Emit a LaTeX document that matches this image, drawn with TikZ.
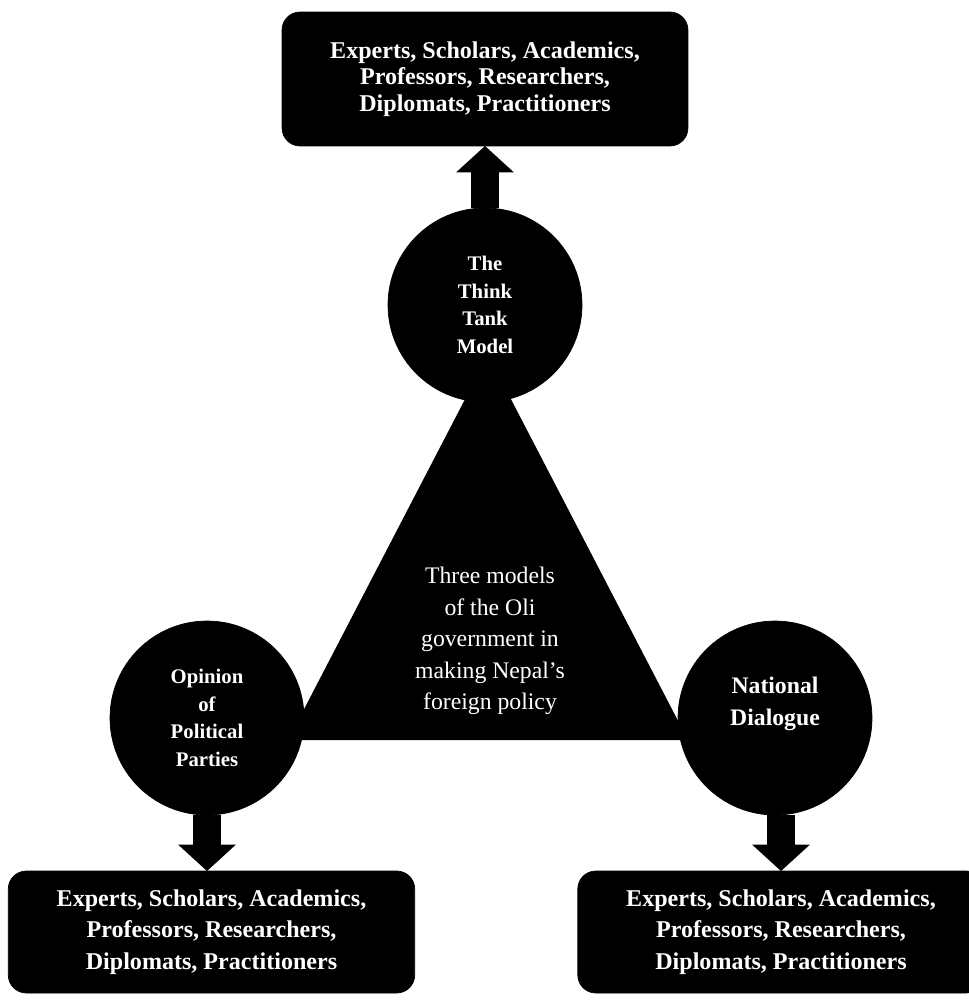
\documentclass[tikz,border=0pt]{standalone}
\usepackage{fontspec}
\setmainfont{Liberation Serif}
\usetikzlibrary{arrows.meta}

\tikzset{
  groupbox/.style={
    draw=black, fill=black, text=white,
    rounded corners=0.36cm,
    minimum width=8.13cm, minimum height=2.44cm,
    align=center, inner sep=0pt,
    font=\bfseries\fontsize{13.7pt}{18.0pt}\selectfont
  },
  modelcircle/.style={
    circle, draw=black, fill=black, text=white,
    minimum size=3.88cm, inner sep=0pt,
    align=center, font=\bfseries\fontsize{11.8pt}{15.7pt}\selectfont
  },
  modellabel/.style={
    text=white, align=center, inner sep=0pt,
    font=\bfseries\fontsize{13.5pt}{18.1pt}\selectfont
  },
  centretext/.style={
    text=white, align=center, inner sep=0pt,
    font=\fontsize{13.5pt}{17.9pt}\selectfont
  },
  blockarrow/.style={
    line width=0.57cm,
    -{Triangle[length=0.53cm, width=1.16cm, line width=0pt]}
  },
}

\begin{document}
\begin{tikzpicture}[x=0.02cm, y=-0.02cm, every node/.style={outer sep=0pt}]

\useasboundingbox (0,0) rectangle (969,1001);
\clip (0,0) rectangle (969,1001);

%% Central triangle
\coordinate (apex) at (488,355);
\coordinate (baseL) at (288,740);
\coordinate (baseR) at (688,740);
\fill[black] (apex) -- (baseL) -- (baseR) -- cycle;

\node[centretext] (centre) at (490,641)
  {Three models\\of the Oli\\government in\\making Nepal's\\foreign policy};

%% The three models
\node[modelcircle] (thinktank) at (485,305)
  {The\\Think\\Tank\\Model};

\node[modelcircle] (opinion) at (207,718)
  {Opinion\\of\\Political\\Parties};

\node[modelcircle,
      label={[modellabel, yshift=0.28cm]center:{National\\Dialogue}}]
  (dialogue) at (775,718) {};

%% Groups consulted
\node[groupbox, minimum width=8.12cm, minimum height=2.68cm,
      font=\bfseries\fontsize{13.7pt}{15.2pt}\selectfont] (topbox) at (485,79)
  {Experts, Scholars, Academics,\\Professors, Researchers,\\Diplomats, Practitioners};

\node[groupbox] (leftbox) at (211.5,932)
  {Experts, Scholars, Academics,\\Professors, Researchers,\\Diplomats, Practitioners};

\node[groupbox] (rightbox) at (781,932)
  {Experts, Scholars, Academics,\\Professors, Researchers,\\Diplomats, Practitioners};

%% Block arrows
\draw[blockarrow] (thinktank.north) -- (topbox.south);
\draw[blockarrow] (opinion.south) -- (opinion.south |- leftbox.north);
\draw[blockarrow] (dialogue.south -| rightbox.north) -- (rightbox.north);

\end{tikzpicture}
\end{document}
